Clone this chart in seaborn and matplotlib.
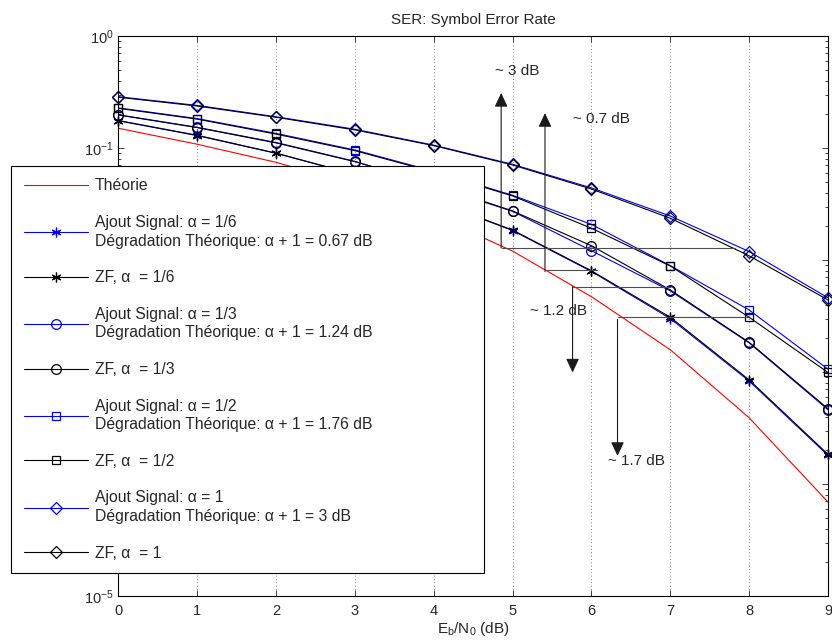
import numpy as np
import pandas as pd
import matplotlib
matplotlib.use("Agg")
import matplotlib.pyplot as plt
import seaborn as sns

# --- data --- #
snr_db = [0, 1, 2, 3, 4, 5, 6, 7, 8, 9]

ser_theorie = [0.150, 0.108, 0.0745, 0.0465, 0.0250, 0.0120, 0.0047, 0.00158, 0.00039, 0.000069]

ser_ajout_16 = [0.176, 0.130, 0.0900, 0.058, 0.034, 0.0183, 0.0079, 0.00300, 0.00083, 0.000180]
ser_zf_16 = [0.175, 0.129, 0.0897, 0.058, 0.034, 0.0185, 0.0080, 0.00308, 0.00085, 0.000184]

ser_ajout_13 = [0.198, 0.153, 0.112, 0.0760, 0.046, 0.0272, 0.0121, 0.0053, 0.00182, 0.00046]
ser_zf_13 = [0.197, 0.152, 0.111, 0.0755, 0.047, 0.0274, 0.0134, 0.0054, 0.00184, 0.00047]

ser_ajout_12 = [0.228, 0.183, 0.135, 0.0960, 0.062, 0.0378, 0.0208, 0.0089, 0.00358, 0.00106]
ser_zf_12 = [0.226, 0.181, 0.133, 0.0946, 0.061, 0.0373, 0.0192, 0.00884, 0.00308, 0.00099]

ser_ajout_1 = [0.287, 0.240, 0.190, 0.147, 0.106, 0.0715, 0.0440, 0.0247, 0.0119, 0.0046]
ser_zf_1 = [0.284, 0.237, 0.188, 0.145, 0.105, 0.0705, 0.0430, 0.0236, 0.0109, 0.0044]

labels = [
    "Théorie",
    "Ajout Signal: α = 1/6\nDégradation Théorique: α + 1 = 0.67 dB",
    "ZF, α  = 1/6",
    "Ajout Signal: α = 1/3\nDégradation Théorique: α + 1 = 1.24 dB",
    "ZF, α  = 1/3",
    "Ajout Signal: α = 1/2\nDégradation Théorique: α + 1 = 1.76 dB",
    "ZF, α  = 1/2",
    "Ajout Signal: α = 1\nDégradation Théorique: α + 1 = 3 dB",
    "ZF, α  = 1",
]
series = [ser_theorie, ser_ajout_16, ser_zf_16, ser_ajout_13, ser_zf_13,
          ser_ajout_12, ser_zf_12, ser_ajout_1, ser_zf_1]
colors = ["red", "blue", "black", "blue", "black", "blue", "black", "blue", "black"]
markers = [None, (6, 2, 0), (6, 2, 0), "o", "o", "s", "s", "D", "D"]
msizes = [0, 7, 7, 7, 7, 6, 6, 6, 6]

# annotation arrows: (x, y_start, y_end), horizontal guides: (y, x0, x1), texts
arrows = [(4.854, 0.0128, 0.31), (5.41, 0.0079, 0.205),
          (5.76, 0.00578, 0.00099), (6.33, 0.00295, 0.000178)]
guides = [(0.0128, 4.87, 7.82), (0.0082, 5.43, 6.07),
          (0.00575, 5.77, 7.0), (0.00309, 6.34, 7.99)]
notes = [(4.78, 0.487, "~ 3 dB"), (5.77, 0.1815, "~ 0.7 dB"),
         (5.22, 0.00351, "~ 1.2 dB"), (6.21, 0.000161, "~ 1.7 dB")]

sns.set_style("ticks")
plt.rcParams['font.family'] = ['Liberation Sans', 'DejaVu Sans']
plt.rcParams['mathtext.fontset'] = 'custom'
plt.rcParams['mathtext.rm'] = 'Liberation Sans'
plt.rcParams['mathtext.it'] = 'Liberation Sans'

fig = plt.figure(figsize=(8.32, 6.43), dpi=100)
ax = fig.add_axes([0.1424, 0.0731, 0.8528, 0.8709])

for ser, lab, col, mk, ms in zip(series, labels, colors, markers, msizes):
    df = pd.DataFrame({"snr": snr_db, "ser": ser})
    kw = dict(color=col, linewidth=0.8, label=lab, errorbar=None, clip_on=False)
    if mk is not None:
        kw.update(marker=mk, markersize=ms, markerfacecolor="none",
                  markeredgecolor=col, markeredgewidth=0.9)
    sns.lineplot(data=df, x="snr", y="ser", ax=ax, **kw)

ax.set_yscale("log")
ax.set_xlim(0, 9)
ax.set_ylim(1e-5, 1)
ax.set_xticks(snr_db)
ax.grid(axis="x", color="0.35", linestyle=(0, (1, 3)), linewidth=0.6)
ax.tick_params(which="both", direction="in", top=True, right=True, labelsize=10.5)
ax.tick_params(which="major", length=4.5, width=0.6)
ax.tick_params(which="minor", length=2.5, width=0.6)
ax.tick_params(axis="x", which="minor", bottom=False, top=False)
ax.tick_params(axis="x", pad=6)
for sp in ax.spines.values():
    sp.set_linewidth(0.8)
    sp.set_color("black")

ax.set_title("SER: Symbol Error Rate", fontsize=11, pad=9)
ax.set_xlabel(r"$\mathdefault{E_b/N_0}$ (dB)", fontsize=11, labelpad=1)
ax.set_ylabel("")

# the legend hides the middle decade labels, as in the reference
fig.canvas.draw()
for lbl, val in zip(ax.get_yticklabels(), ax.get_yticks()):
    if 1.5e-5 < val < 5e-2:
        lbl.set_visible(False)

# arrows and horizontal guides
for (y, x0, x1) in guides:
    ax.plot([x0, x1], [y, y], color="0.3", linewidth=0.8)
for (x, y0, y1) in arrows:
    ax.annotate("", xy=(x, y1), xytext=(x, y0),
                arrowprops=dict(arrowstyle="-|>,head_length=0.85,head_width=0.4",
                                color="0.1", linewidth=0.8, shrinkA=0, shrinkB=0))
for (x, y, t) in notes:
    ax.text(x, y, t, fontsize=11, ha="left", va="center")

handles, labs = ax.get_legend_handles_labels()
leg = ax.legend(handles, labs, loc="upper left", bbox_to_anchor=(-0.1515, 0, 0.666, 0.768),
                mode="expand", borderaxespad=0, fontsize=11.3, handlelength=4.1,
                handletextpad=0.45, labelspacing=1.375, borderpad=0.8, frameon=True,
                fancybox=False, framealpha=1, edgecolor="black")
leg.get_frame().set_linewidth(0.8)
for t in leg.get_texts():
    t.set_linespacing(1.3)

plt.savefig("out.png", dpi=100)
plt.close()
